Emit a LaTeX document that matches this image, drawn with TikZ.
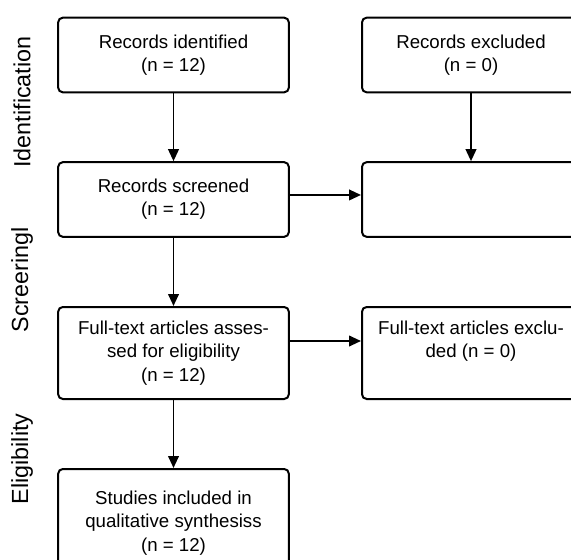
\documentclass[tikz,border=0pt]{standalone}
\usepackage{fontspec}
\setmainfont{Liberation Sans}
\usetikzlibrary{arrows.meta}

\tikzset{
  box/.style={draw, line width=1.5pt, rounded corners=3.5pt, align=center,
    minimum width=173pt, minimum height=56pt,
    font=\fontsize{14}{17.5}\selectfont},
  sidebox/.style={box, minimum width=163.5pt},
  arr/.style={-{Triangle[length=9pt,width=8pt]}, line width=1.4pt},
  phase/.style={rotate=90, font=\fontsize{17.5}{20}\selectfont}
}

\begin{document}
\begin{tikzpicture}[x=0.75pt,y=-0.75pt]
    \useasboundingbox (0,0) rectangle (571,560);
    \clip (0,0) rectangle (571,560);

    % Phases
    \node[phase] (lid) at (22,102) {Identification};
    \node[phase] (lsc) at (22,280) {Screeringl};
    \node[phase] (lel) at (22,459) {Eligibility};

    % Colonne de gauche
    \node[box] (ident) at (173.5,55) {Records identified\\(n = 12)};
    \node[box] (scr) at (173.5,199.5) {Records screened\\(n = 12)};
    \node[box, minimum height=69pt] (full) at (173.5,353)
        {Full-text articles asses-\\sed for eligibility\\(n = 12)};
    \node[box, minimum height=81pt] (study) at (173.5,523)
        {Studies included in\\qualitative synthesiss\\(n = 12)};

    % Colonne de droite
    \node[sidebox] (excl) at (471,55) {Records excluded\\(n = 0)};
    \node[sidebox] (empty) at (471,199.5) {};
    \node[sidebox, minimum height=69pt] (ftexcl) at (471,353)
        {Full-text articles exclu-\\ded (n = 0)\\\phantom{(n)}};

    % Fleches
    \draw[arr] (ident) -- (scr);
    \draw[arr] (scr) -- (full);
    \draw[arr] (full) -- (study);
    \draw[arr] (excl) -- (empty);
    \draw[arr] ([yshift=3.4pt]scr.east) -- ([yshift=3.4pt]empty.west);
    \draw[arr] ([yshift=9pt]full.east) -- ([yshift=9pt]ftexcl.west);
\end{tikzpicture}
\end{document}
